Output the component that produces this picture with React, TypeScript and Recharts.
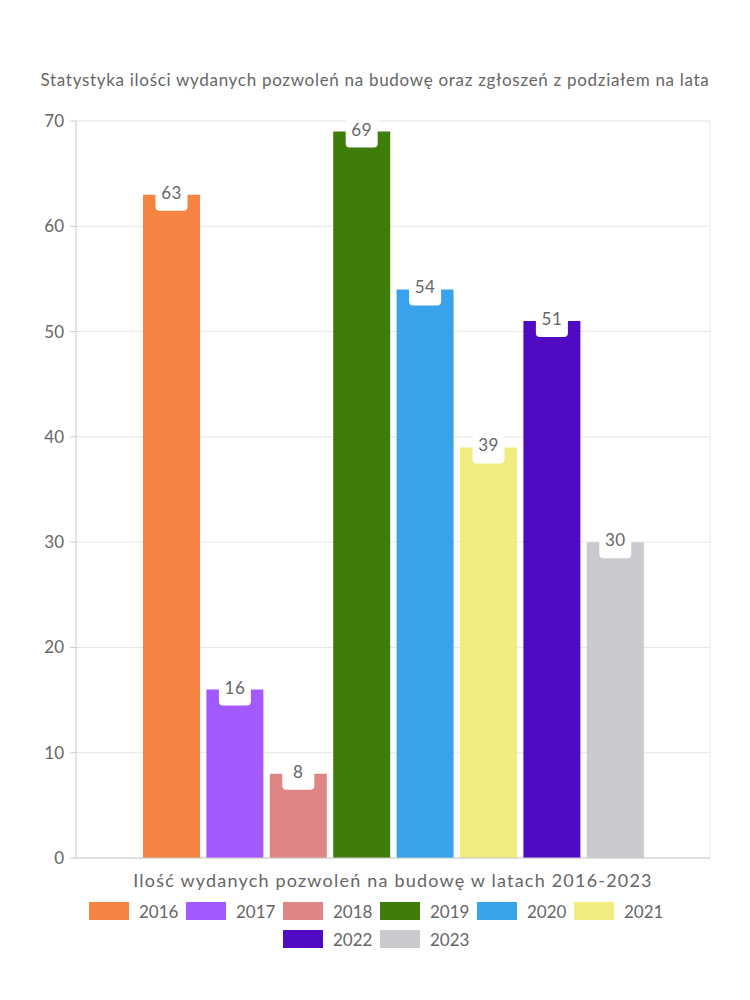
import React from 'react'
import { BarChart, Bar, XAxis, YAxis, CartesianGrid, LabelList } from 'recharts'

const category = 'Ilość wydanych pozwoleń na budowę w latach 2016-2023'
const years = ['2016', '2017', '2018', '2019', '2020', '2021', '2022', '2023']
const values = [63, 16, 8, 69, 54, 39, 51, 30]
const colors = ['#F58442', '#A259FF', '#E08585', '#3F7D0B', '#38A3EA', '#F0EC7E', '#500AC4', '#C9CACE']
const yTicks = [0, 10, 20, 30, 40, 50, 60, 70]

const FONT = 'Lato, "Noto Sans", sans-serif'
const TEXT = '#666666'

const row: Record<string, string | number> = { name: category }
years.forEach((y, i) => {
  row[y] = values[i]
})
const chartData = [row]

// white rounded tag sitting on top of each bar
const ValueTag = (props: any) => {
  const { x, y, width, value } = props
  const cx = x + width / 2
  return (
    <g>
      <rect x={cx - 16} y={y - 13} width={32} height={29} rx={4} fill="#ffffff" />
      <text x={cx} y={y + 4} textAnchor="middle" fill={TEXT} fontSize={17} fontFamily={FONT} letterSpacing={0.5}>
        {value}
      </text>
    </g>
  )
}

const LegendRows = () => (
  <div
    style={{
      position: 'absolute',
      top: 902,
      left: 75,
      width: 600,
      display: 'flex',
      flexWrap: 'wrap',
      justifyContent: 'center',
      rowGap: 10,
      fontFamily: FONT,
      fontSize: 17,
      color: TEXT,
    }}
  >
    {years.map((y, i) => (
      <div key={y} style={{ display: 'flex', alignItems: 'center', margin: '0 5px', height: 18 }}>
        <span style={{ width: 40, height: 18, background: colors[i], display: 'inline-block', marginRight: 10 }} />
        <span style={{ width: 37 }}>{y}</span>
      </div>
    ))}
  </div>
)

export default function App() {
  return (
    <div style={{ position: 'relative', width: 750, height: 1000, margin: '-8px 0 0 -8px', background: '#fff' }}>
      <div
        style={{
          position: 'absolute',
          top: 69,
          left: 0,
          width: 750,
          textAlign: 'center',
          fontFamily: FONT,
          fontSize: 17,
          letterSpacing: 0.7,
          color: TEXT,
        }}
      >
        Statystyka ilości wydanych pozwoleń na budowę oraz zgłoszeń z podziałem na lata
      </div>
      <BarChart
        width={750}
        height={1000}
        data={chartData}
        margin={{ top: 121, right: 40, bottom: 108, left: 0 }}
        barSize={57}
        barGap={6.4}
      >
        <CartesianGrid
          stroke="#e6e6e6"
          vertical={true}
          verticalCoordinatesGenerator={({ offset }: any) => [offset.left + offset.width]}
        />
        <XAxis
          dataKey="name"
          tickLine={false}
          axisLine={{ stroke: '#cccccc' }}
          tick={{ fill: TEXT, fontSize: 18, fontFamily: FONT, letterSpacing: 1.2 }}
          tickMargin={10}
          height={34}
        />
        <YAxis
          domain={[0, 70]}
          ticks={yTicks}
          width={76}
          tickSize={6}
          tickMargin={6}
          axisLine={{ stroke: '#cccccc' }}
          tickLine={{ stroke: '#cccccc' }}
          tick={{ fill: TEXT, fontSize: 17, fontFamily: FONT }}
        />
        {years.map((y, i) => (
          <Bar key={y} dataKey={y} fill={colors[i]} isAnimationActive={false}>
            <LabelList dataKey={y} content={<ValueTag />} />
          </Bar>
        ))}
      </BarChart>
      <LegendRows />
    </div>
  )
}
